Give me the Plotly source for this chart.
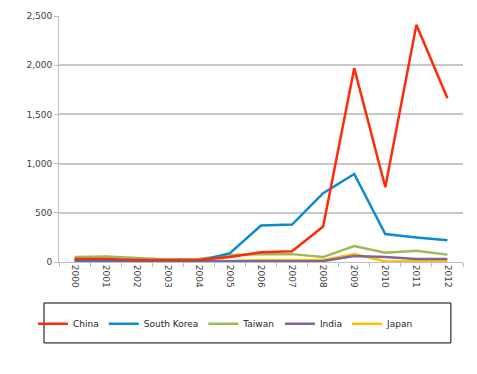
import plotly.graph_objects as go

years = ["2000", "2001", "2002", "2003", "2004", "2005", "2006", "2007", "2008", "2009", "2010", "2011", "2012"]
china = [30, 30, 20, 20, 20, 50, 100, 110, 360, 1970, 760, 2410, 1665]
south_korea = [20, 20, 15, 10, 10, 90, 370, 380, 700, 895, 285, 250, 220]
taiwan = [50, 55, 40, 25, 30, 70, 80, 80, 50, 163, 95, 115, 75]
india = [5, 5, 5, 5, 5, 5, 10, 10, 10, 60, 50, 30, 30]
japan = [10, 10, 8, 5, 8, 10, 20, 20, 20, 80, 5, 10, 10]

series = [
    ("China", china, "#ff2a0a"),
    ("South Korea", south_korea, "#0e8ad0"),
    ("Taiwan", taiwan, "#9bbb59"),
    ("India", india, "#8064a2"),
    ("Japan", japan, "#ffc000"),
]

fig = go.Figure()
for name, vals, color in reversed(series):
    fig.add_trace(go.Scatter(x=years, y=vals, name=name, mode="lines",
                             line=dict(color=color, width=2.5)))

fig.update_layout(
    width=469, height=366,
    margin=dict(l=51, r=14, t=8, b=112, autoexpand=False),
    paper_bgcolor="white", plot_bgcolor="white",
    font=dict(family="DejaVu Sans", size=9, color="#404040"),
    showlegend=True,
    legend=dict(orientation="h", traceorder="reversed",
                xref="container", yref="container",
                x=0.465, xanchor="center", y=0.137, yanchor="middle",
                font=dict(size=9, color="#262626"), borderwidth=0,
                bgcolor="rgba(0,0,0,0)", itemwidth=30),
    xaxis=dict(type="category", range=[-0.5, 12.5], showgrid=False, showline=True,
               linecolor="#bfbfbf", linewidth=1, ticks="outside", tickson="boundaries",
               ticklen=4, tickcolor="#bfbfbf", tickangle=90, fixedrange=True),
    yaxis=dict(range=[0, 2500], dtick=500, tickformat=",", showgrid=True,
               gridcolor="#c8c8c8", gridwidth=1.5, showline=True, linecolor="#bfbfbf",
               ticks="outside", ticklen=4, tickcolor="#bfbfbf", zeroline=False),
    shapes=[dict(type="rect", xref="paper", yref="paper",
                 x0=-0.0371, x1=0.970, y0=-0.329, y1=-0.1667,
                 line=dict(color="black", width=1))],
)

fig.write_html("out.html")
